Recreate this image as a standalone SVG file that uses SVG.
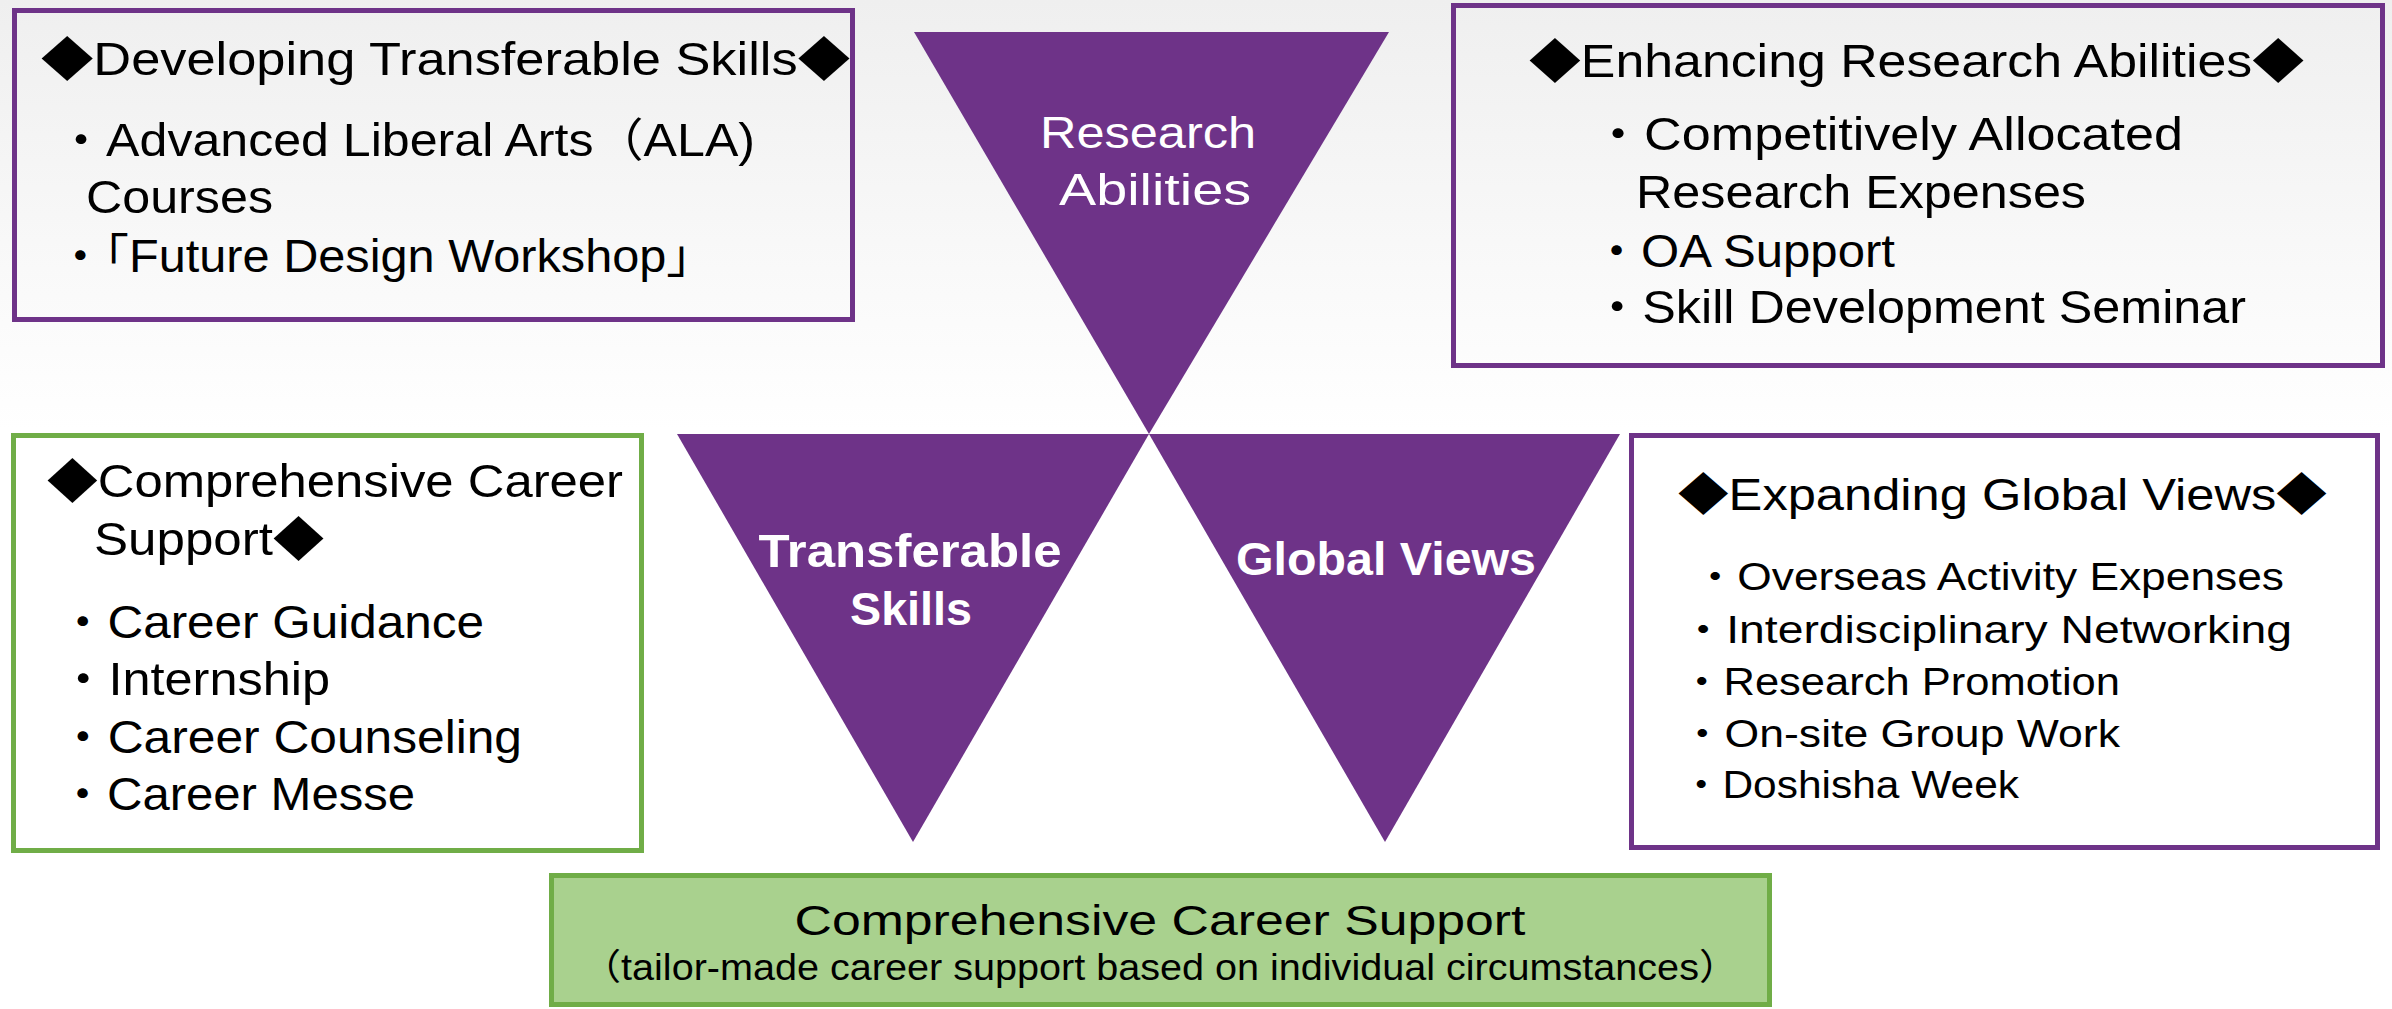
<svg xmlns="http://www.w3.org/2000/svg" width="2392" height="1009" viewBox="0 0 2392 1009">
<defs>
<linearGradient id="bg" x1="0" y1="0" x2="0" y2="430" gradientUnits="userSpaceOnUse">
<stop offset="0" stop-color="#efefef"/>
<stop offset="1" stop-color="#ffffff"/>
</linearGradient>
<style>
.t{font-family:"Liberation Sans","Noto Sans CJK JP",sans-serif;fill:#000;}
.w{font-family:"Liberation Sans","Noto Sans CJK JP",sans-serif;fill:#fff;text-anchor:middle;}
.b{font-weight:700;}
.pbox{fill:none;stroke:#6E3388;stroke-width:5;}
.pboxw{fill:#fff;stroke:#6E3388;stroke-width:5;}
.gbox{fill:#fff;stroke:#70AD47;stroke-width:5;}
.gfill{fill:#A9D18E;stroke:#70AD47;stroke-width:5;}
.tri{fill:#6E3388;}
</style>
</defs>
<rect x="0" y="0" width="2392" height="1009" fill="url(#bg)"/>

<g id="tri-research">
<polygon class="tri" points="914,32 1389,32 1149,434"/>
<text class="w" font-size="44" x="1148" y="148" textLength="216" lengthAdjust="spacingAndGlyphs">Research</text>
<text class="w" font-size="44" x="1155" y="205" textLength="192" lengthAdjust="spacingAndGlyphs">Abilities</text>
</g>

<g id="tri-transferable">
<polygon class="tri" points="677,434 1149,434 913,842"/>
<text class="w b" font-size="46" x="910" y="567" textLength="303" lengthAdjust="spacingAndGlyphs">Transferable</text>
<text class="w b" font-size="46" x="911" y="625" textLength="122" lengthAdjust="spacingAndGlyphs">Skills</text>
</g>

<g id="tri-global">
<polygon class="tri" points="1149,434 1620,434 1385,842"/>
<text class="w b" font-size="46" x="1386" y="575" textLength="300" lengthAdjust="spacingAndGlyphs">Global Views</text>
</g>

<g id="box-transferable">
<rect class="pbox" x="14.5" y="10.5" width="838" height="309"/>
<text class="t" font-size="46" x="41" y="75" textLength="809" lengthAdjust="spacingAndGlyphs">◆Developing Transferable Skills◆</text>
<text class="t" font-size="46" x="56" y="156" textLength="699" lengthAdjust="spacingAndGlyphs">・Advanced Liberal Arts（ALA)</text>
<text class="t" font-size="46" x="86" y="213" textLength="187" lengthAdjust="spacingAndGlyphs">Courses</text>
<text class="t" font-size="46" x="56" y="272" textLength="659" lengthAdjust="spacingAndGlyphs">・「Future Design Workshop」</text>
</g>

<g id="box-research">
<rect class="pbox" x="1453.5" y="5.5" width="929" height="360"/>
<text class="t" font-size="46" x="1529" y="77" textLength="775" lengthAdjust="spacingAndGlyphs">◆Enhancing Research Abilities◆</text>
<text class="t" font-size="46" x="1592" y="150" textLength="591" lengthAdjust="spacingAndGlyphs">・Competitively Allocated</text>
<text class="t" font-size="46" x="1636" y="208" textLength="450" lengthAdjust="spacingAndGlyphs">Research Expenses</text>
<text class="t" font-size="46" x="1592" y="267" textLength="303" lengthAdjust="spacingAndGlyphs">・OA Support</text>
<text class="t" font-size="46" x="1592" y="323" textLength="654" lengthAdjust="spacingAndGlyphs">・Skill Development Seminar</text>
</g>

<g id="box-career">
<rect class="gbox" x="13.5" y="435.5" width="628" height="415"/>
<text class="t" font-size="46" x="47" y="497" textLength="576" lengthAdjust="spacingAndGlyphs">◆Comprehensive Career</text>
<text class="t" font-size="46" x="94" y="555" textLength="230" lengthAdjust="spacingAndGlyphs">Support◆</text>
<text class="t" font-size="46" x="58" y="638" textLength="426" lengthAdjust="spacingAndGlyphs">・Career Guidance</text>
<text class="t" font-size="46" x="58" y="695" textLength="272" lengthAdjust="spacingAndGlyphs">・Internship</text>
<text class="t" font-size="46" x="58" y="753" textLength="464" lengthAdjust="spacingAndGlyphs">・Career Counseling</text>
<text class="t" font-size="46" x="58" y="810" textLength="357" lengthAdjust="spacingAndGlyphs">・Career Messe</text>
</g>

<g id="box-global">
<rect class="pboxw" x="1631.5" y="435.5" width="746" height="412"/>
<text class="t" font-size="44" x="1678" y="510" textLength="649" lengthAdjust="spacingAndGlyphs">◆Expanding Global Views◆</text>
<text class="t" font-size="38" x="1693" y="590" textLength="591" lengthAdjust="spacingAndGlyphs">・Overseas Activity Expenses</text>
<text class="t" font-size="38" x="1680" y="643" textLength="612" lengthAdjust="spacingAndGlyphs">・Interdisciplinary Networking</text>
<text class="t" font-size="38" x="1680" y="695" textLength="440" lengthAdjust="spacingAndGlyphs">・Research Promotion</text>
<text class="t" font-size="38" x="1680" y="747" textLength="440" lengthAdjust="spacingAndGlyphs">・On-site Group Work</text>
<text class="t" font-size="38" x="1680" y="798" textLength="339" lengthAdjust="spacingAndGlyphs">・Doshisha Week</text>
</g>

<g id="box-comprehensive">
<rect class="gfill" x="551.5" y="875.5" width="1218" height="129"/>
<text class="t" font-size="42" x="1160" y="935" text-anchor="middle" textLength="731" lengthAdjust="spacingAndGlyphs">Comprehensive Career Support</text>
<text class="t" font-size="36" x="1160" y="980" text-anchor="middle" textLength="1157" lengthAdjust="spacingAndGlyphs">（tailor-made career support based on individual circumstances）</text>
</g>

<g id="connectors"/>
</svg>
